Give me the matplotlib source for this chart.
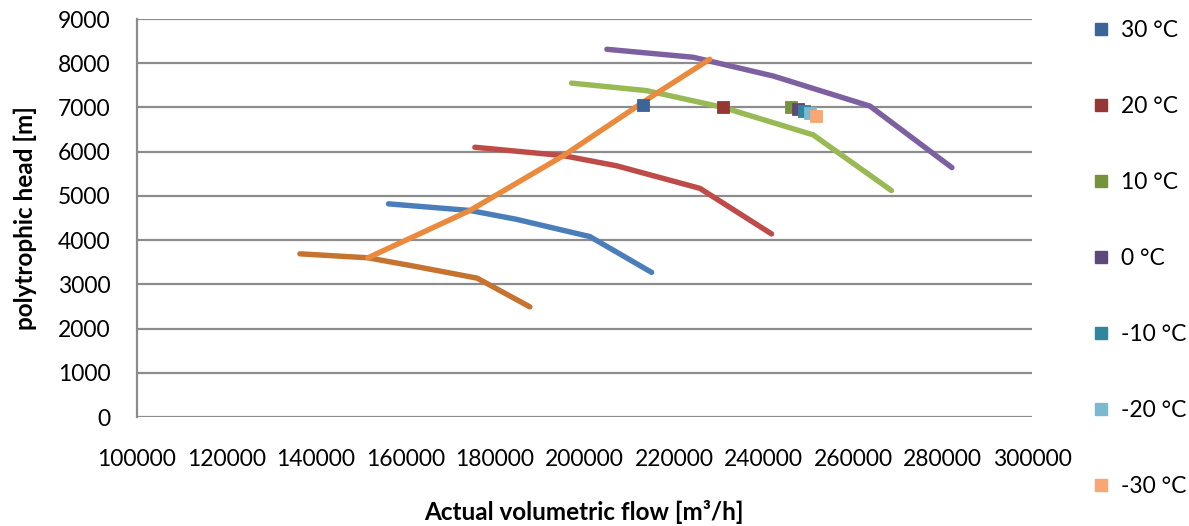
import matplotlib
matplotlib.use("Agg")
import matplotlib.pyplot as plt
from matplotlib.lines import Line2D

plt.rcParams['font.family'] = ['Lato', 'DejaVu Sans']

# Speed curves (flow m3/h, head m)
curve_brown_x = [136400, 151600, 161700, 176000, 187800]
curve_brown_y = [3690, 3600, 3415, 3140, 2490]
curve_blue_x = [156200, 174400, 184800, 201200, 215000]
curve_blue_y = [4820, 4670, 4470, 4080, 3270]
curve_red_x = [175500, 195300, 207200, 225800, 241800]
curve_red_y = [6100, 5910, 5680, 5170, 4140]
curve_green_x = [197100, 213900, 231000, 251100, 268600]
curve_green_y = [7550, 7380, 7000, 6380, 5120]
curve_purple_x = [205000, 224300, 242200, 263800, 282100]
curve_purple_y = [8315, 8135, 7710, 7030, 5640]
surge_x = [151600, 174400, 195300, 216100, 228000]
surge_y = [3600, 4670, 5910, 7320, 8090]

# Operating points by temperature
temp_labels = ['30 °C', '20 °C', '10 °C', '0 °C', '-10 °C', '-20 °C', '-30 °C']
temp_x = [213100, 230900, 246100, 247600, 249100, 250400, 251700]
temp_y = [7055, 7000, 7015, 6965, 6925, 6870, 6815]
temp_colors = ['#3C6496', '#953735', '#76923C', '#5F497A', '#31859C', '#7AB9CF', '#F8A673']

y_ticks = [0, 1000, 2000, 3000, 4000, 5000, 6000, 7000, 8000, 9000]
x_ticks = [100000, 120000, 140000, 160000, 180000, 200000, 220000, 240000, 260000, 280000, 300000]

fig = plt.figure(figsize=(11.89, 5.26), dpi=100)
ax = fig.add_axes([137/1189, 1-417/526, (1032-137)/1189, (417-19)/526])

lw = 3.9
curves = [
    (curve_brown_x, curve_brown_y, '#C5732F'),
    (curve_blue_x, curve_blue_y, '#4A7EBB'),
    (curve_red_x, curve_red_y, '#BE4B48'),
    (curve_green_x, curve_green_y, '#98B954'),
    (curve_purple_x, curve_purple_y, '#7D60A0'),
]
for xs, ys, c in curves:
    ax.plot(xs, ys, color=c, lw=lw, solid_capstyle='round', solid_joinstyle='round', zorder=3)
ax.plot(surge_x, surge_y, color='#EB8A3C', lw=lw, solid_capstyle='round', solid_joinstyle='round', zorder=4)

handles = []
for i in range(len(temp_labels)):
    ax.plot([temp_x[i]], [temp_y[i]], marker='s', ls='none', markersize=8.5,
            markerfacecolor=temp_colors[i], markeredgecolor=temp_colors[i],
            markeredgewidth=0.6, zorder=5 + i)
    handles.append(Line2D([], [], marker='s', ls='none', markersize=8,
                          markerfacecolor=temp_colors[i], markeredgecolor=temp_colors[i],
                          label=temp_labels[i]))

ax.set_xlim(100000, 300000)
ax.set_ylim(0, 9000)
ax.set_xticks(x_ticks)
ax.set_yticks(y_ticks)
ax.set_xticklabels([str(v) for v in x_ticks])
ax.set_yticklabels([str(v) for v in y_ticks])
ax.tick_params(axis='both', length=0, labelsize=16.5, colors='black')
ax.tick_params(axis='x', pad=23)
ax.tick_params(axis='y', pad=19)

ax.grid(axis='y', color='#8C8C8C', lw=1.6, zorder=1)
ax.set_axisbelow(True)
for s in ['top', 'right', 'bottom']:
    ax.spines[s].set_visible(False)
ax.spines['left'].set_color('#8C8C8C')
ax.spines['left'].set_linewidth(1.6)

fig.text(584/1189, 1-512/526, 'Actual volumetric flow [m³/h]', ha='center', va='center',
         fontsize=17.5, fontweight='bold')
fig.text(25/1189, 1-218/526, 'polytrophic head [m]', ha='center', va='center',
         rotation=90, fontsize=17.5, fontweight='bold')

leg = fig.legend(handles=handles, loc='upper left', bbox_to_anchor=(1083/1189, 1-11/526),
                 frameon=False, fontsize=16.5, labelspacing=2.4, handlelength=0.8,
                 handletextpad=0.45, borderaxespad=0)

fig.savefig('out.png', dpi=100)
